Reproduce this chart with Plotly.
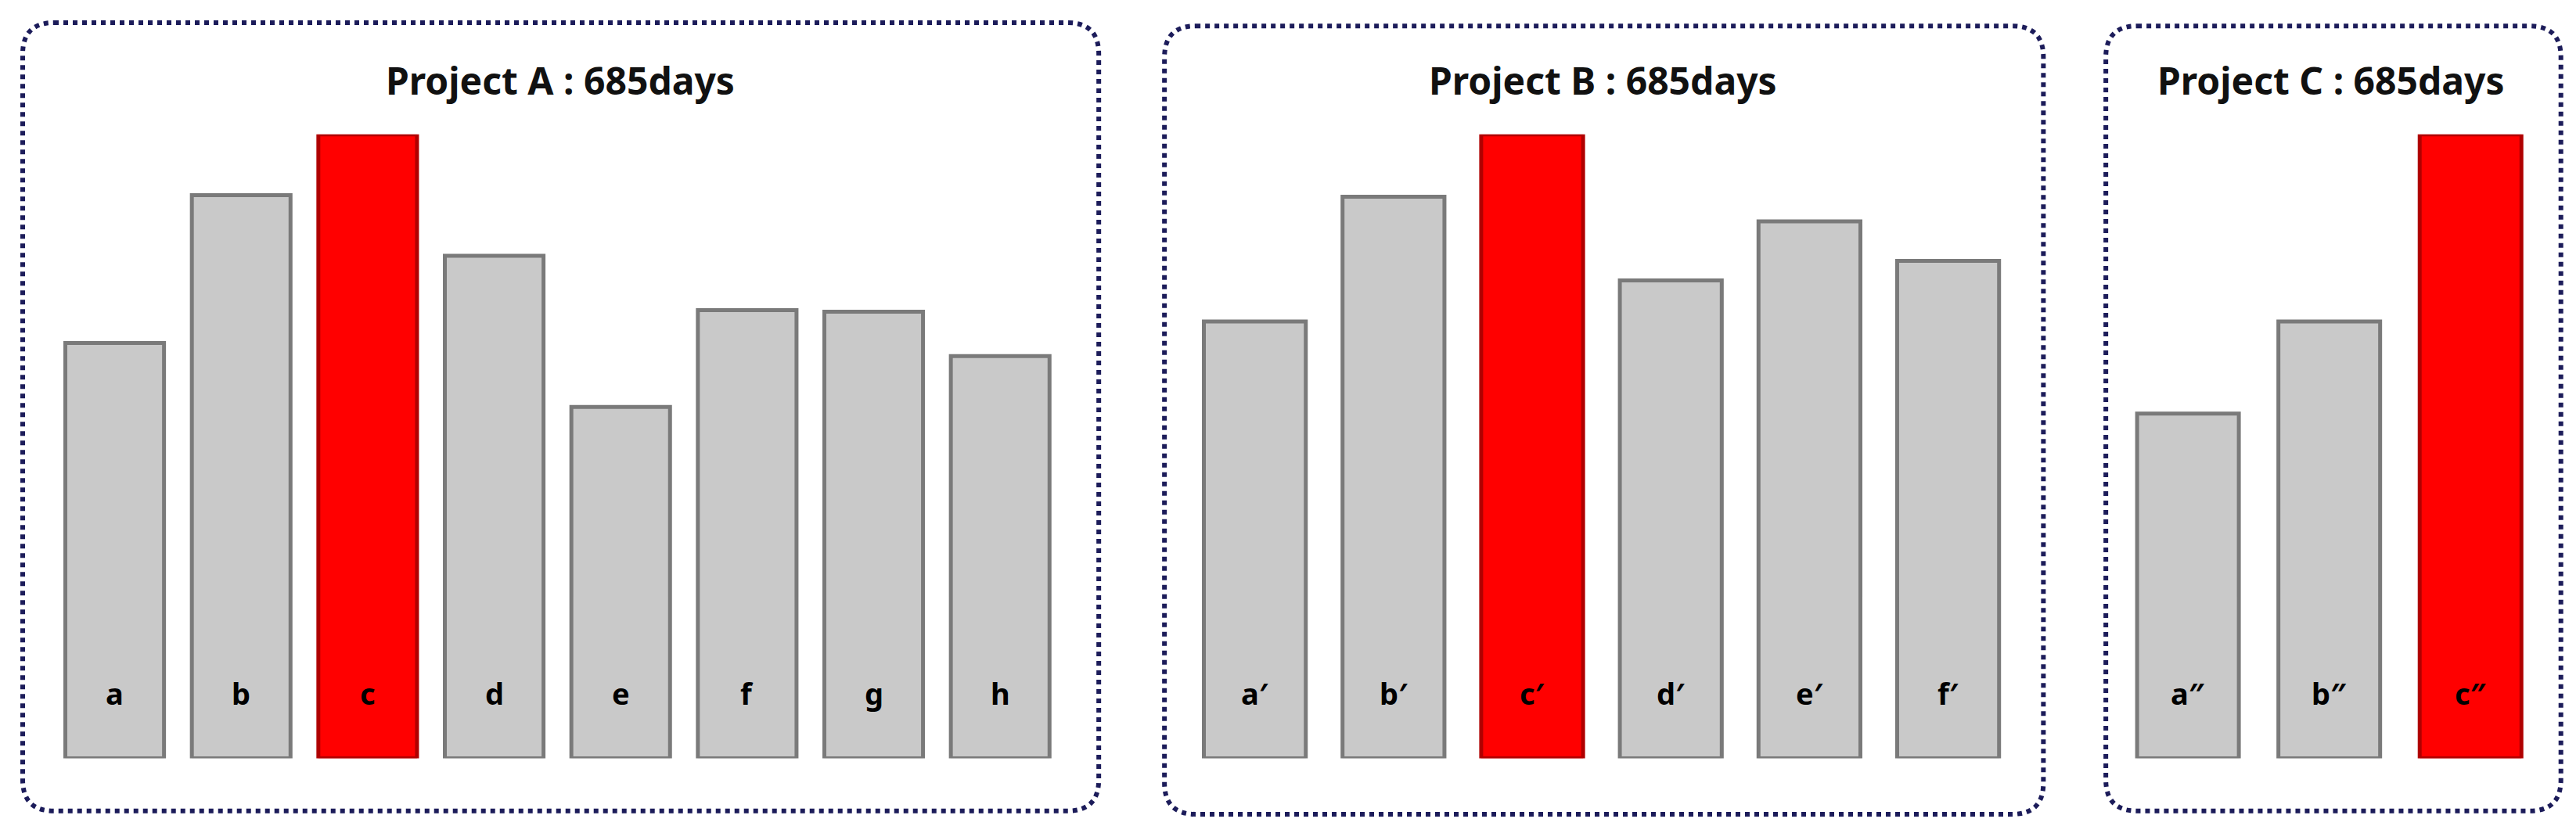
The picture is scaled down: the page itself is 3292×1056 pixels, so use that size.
import plotly.graph_objects as go

W, H = 3292, 1056
cats_a = ["a", "b", "c", "d", "e", "f", "g", "h"]
vals_a = [253, 343, 380, 306, 214, 273, 272, 245]
cats_b = ["a′", "b′", "c′", "d′", "e′", "f′"]
vals_b = [266, 342, 380, 291, 327, 303]
cats_c = ["a″", "b″", "c″"]
vals_c = [210, 266, 380]
highlight = {"c", "c′", "c″"}
titles = ["Project A : 685days", "Project B : 685days", "Project C : 685days"]

S = W / 1568.0
def fx(px): return px / 1568.0
def fy(py): return 1 - py * S / H

panels = [
    (cats_a, vals_a, (27.5, 643.5), 0.22, (10, 10, 665, 490), 337),
    (cats_b, vals_b, (717.8, 1224.2), 0.265, (705, 12, 1240, 492), 972),
    (cats_c, vals_c, (1285, 1543), 0.28, (1278, 12, 1555, 490), 1415),
]

fig = go.Figure()
layout = dict(width=W, height=H, margin=dict(l=0, r=0, t=0, b=0),
              plot_bgcolor="white", paper_bgcolor="white", showlegend=False,
              font=dict(family="Noto Sans, Arial", color="black"))
shapes, annots = [], []
ydom = [fy(458), fy(78)]
for i, (cats, vals, dom, gap, box, tx) in enumerate(panels):
    n = "" if i == 0 else str(i + 1)
    fig.add_trace(go.Bar(
        x=cats, y=vals, xaxis="x" + n, yaxis="y" + n, width=1 - gap,
        marker=dict(color=["#ff0000" if c in highlight else "#c9c9c9" for c in cats],
                    line=dict(color=["#b00000" if c in highlight else "#7a7a7a" for c in cats], width=5)),
        hoverinfo="skip"))
    layout["xaxis" + n] = dict(domain=[fx(dom[0]), fx(dom[1])], showticklabels=False,
                               showgrid=False, zeroline=False, showline=False,
                               anchor="y" + n, range=[-0.5, len(cats) - 0.5])
    layout["yaxis" + n] = dict(domain=ydom, range=[0, 380], visible=False, anchor="x" + n)
    for c in cats:
        annots.append(dict(x=c, y=40, xref="x" + n, yref="y" + n, text="<b>%s</b>" % c,
                           showarrow=False, font=dict(size=38, color="black")))
    annots.append(dict(x=fx(tx), y=fy(45), xref="paper", yref="paper",
                       xanchor="center", yanchor="middle",
                       text="<b>%s</b>" % titles[i], showarrow=False,
                       font=dict(size=48, color="#111111")))
    x0, y0, x1, y1 = fx(box[0]), fy(box[1]), fx(box[2]), fy(box[3])
    rx, ry = 40 / W, 40 / H
    path = (f"M{x0+rx},{y0} L{x1-rx},{y0} Q{x1},{y0} {x1},{y0-ry} L{x1},{y1+ry} "
            f"Q{x1},{y1} {x1-rx},{y1} L{x0+rx},{y1} Q{x0},{y1} {x0},{y1+ry} "
            f"L{x0},{y0-ry} Q{x0},{y0} {x0+rx},{y0} Z")
    shapes.append(dict(type="path", path=path, xref="paper", yref="paper",
                       line=dict(color="#1c1c5a", width=6, dash="dot")))
layout["shapes"] = shapes
layout["annotations"] = annots
fig.update_layout(**layout)
fig.write_html("out.html")
